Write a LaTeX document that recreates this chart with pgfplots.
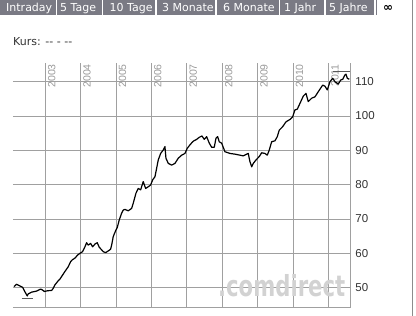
\documentclass[border=0pt]{standalone}
\usepackage{pgfplots}
\pgfplotsset{compat=1.18}
\usepackage{pgfplotstable}
\usepackage{fontspec}
\setmainfont{DejaVu Sans}
\newfontfamily\arialf{Liberation Sans}
\definecolor{tabgray}{HTML}{7A7A84}
\definecolor{gridgray}{HTML}{A0A0A0}
\definecolor{labgray}{HTML}{9A9A9A}
\definecolor{tickdark}{HTML}{333333}
\definecolor{wm}{HTML}{D2D2D2}
\definecolor{borderg}{HTML}{8C8C8C}

\pgfplotstableread{
x y
2002.116 50.3
2002.192 51.0
2002.285 50.5
2002.362 50.1
2002.427 48.8
2002.492 47.6
2002.520 48.2
2002.616 48.7
2002.757 49.0
2002.870 49.6
2002.927 49.3
2002.972 48.9
2003.068 49.1
2003.181 49.2
2003.226 49.8
2003.274 50.8
2003.350 51.8
2003.415 52.5
2003.492 53.7
2003.556 54.7
2003.650 56.1
2003.718 57.6
2003.763 58.1
2003.839 58.6
2003.915 59.5
2003.980 60.0
2004.056 60.5
2004.121 61.9
2004.169 63.1
2004.215 62.4
2004.282 62.9
2004.339 61.9
2004.404 62.7
2004.469 63.1
2004.525 61.8
2004.638 60.5
2004.706 60.2
2004.780 60.7
2004.847 61.2
2004.876 62.4
2004.921 64.9
2004.997 66.8
2005.034 67.5
2005.090 69.7
2005.158 71.7
2005.203 72.6
2005.251 72.8
2005.345 72.4
2005.441 73.1
2005.486 74.6
2005.562 77.5
2005.627 78.9
2005.695 78.5
2005.768 80.9
2005.836 78.9
2005.910 79.4
2005.977 79.9
2006.034 81.4
2006.099 82.3
2006.147 84.8
2006.192 87.2
2006.260 89.1
2006.333 90.1
2006.381 91.1
2006.410 87.7
2006.475 86.2
2006.571 85.7
2006.664 86.2
2006.757 87.7
2006.853 88.6
2006.946 89.1
2007.011 90.6
2007.088 91.6
2007.164 92.5
2007.201 92.8
2007.277 93.2
2007.350 93.8
2007.427 94.2
2007.492 93.2
2007.559 94.0
2007.633 92.1
2007.701 90.9
2007.774 90.9
2007.822 93.5
2007.870 94.0
2007.915 92.5
2007.983 92.1
2008.076 89.6
2008.218 89.1
2008.359 88.9
2008.500 88.6
2008.593 88.4
2008.689 88.9
2008.734 89.1
2008.782 86.7
2008.831 85.2
2008.876 86.2
2008.952 87.2
2009.045 88.2
2009.113 89.3
2009.206 89.1
2009.271 88.6
2009.328 90.1
2009.395 92.5
2009.489 92.8
2009.554 94.0
2009.610 95.9
2009.706 96.9
2009.799 98.3
2009.912 99.0
2009.989 99.8
2010.054 101.8
2010.119 102.0
2010.195 103.7
2010.288 105.8
2010.364 106.6
2010.429 104.2
2010.525 105.2
2010.619 105.6
2010.712 107.1
2010.836 109.0
2010.901 108.7
2010.966 107.6
2011.042 110.0
2011.119 111.0
2011.184 110.0
2011.277 109.3
2011.345 110.5
2011.401 110.7
2011.466 112.0
2011.494 112.2
2011.531 111.0
2011.588 110.7
}\kurs

\begin{document}
\begin{tikzpicture}[x=1pt,y=1pt]
\path[use as bounding box] (0,0) rectangle (416,316);
% tab bar
\fill[tabgray] (0,300.5) rectangle (377,316);
\foreach \xx in {56.7,102.7,156,216,279.3,325,375}
  \draw[white,line width=1.5pt] (\xx,300.5) -- (\xx,316);
\begin{scope}[every node/.style={anchor=base west, inner sep=0pt, text=white, font=\fontsize{11}{13}\selectfont}]
\node at (6,304.5) {Intraday};
\node at (60,304.5) {5 Tage};
\node at (109.5,304.5) {10 Tage};
\node at (162,304.5) {3 Monate};
\node at (223,304.5) {6 Monate};
\node at (284,304.5) {1 Jahr};
\node at (329,304.5) {5 Jahre};
\end{scope}
\node[anchor=center, inner sep=0pt, font=\bfseries\fontsize{12}{13}\selectfont] at (388,308) {∞};
\draw[borderg, line width=1pt] (412,0) -- (412,316);
\node[anchor=base west, inner sep=0pt, text=tickdark, font=\fontsize{11}{13}\selectfont] at (13,270.5) {Kurs: -{}- - -{}-};

\begin{axis}[
  at={(13pt,8pt)}, anchor=south west,
  scale only axis, width=337.3pt, height=245pt,
  xmin=2002.09, xmax=2011.616, ymin=44.08, ymax=115.45,
  axis x line*=bottom, axis y line*=right,
  axis line style={gridgray, line width=1pt, -},
  xtick={2003,2004,...,2011},
  xticklabel=\empty,
  ytick={50,60,...,110},
  major tick length=0pt,
  grid=major, major grid style={gridgray, line width=1pt},
  /pgf/number format/assume math mode=true,
  yticklabel style={anchor=west, inner sep=0pt, xshift=5pt, text=tickdark, font=\arialf\fontsize{11.5}{12}\selectfont},
]
\foreach \yr in {2003,...,2011} {
  \edef\tmp{\noexpand\node[xshift=2.5pt, yshift=-1pt, rotate=90, anchor=north east, inner sep=0pt, text=labgray, font=\noexpand\arialf\noexpand\fontsize{10.5}{11}\noexpand\selectfont] at (axis cs:\yr,115.45) {\yr};}
  \tmp
}
\addplot[black, line width=1.2pt, line join=round] table[x=x,y=y] {\kurs};
\addplot[black!65, line width=0.9pt] coordinates {(2002.333,46.9) (2002.661,46.9)};
\addplot[black!65, line width=0.9pt] coordinates {(2011.127,112.9) (2011.616,112.9)};
\end{axis}
\node[anchor=base west, inner sep=0pt, text=wm, xscale=0.73, font=\bfseries\fontsize{29}{30}\selectfont] at (218,19.3) {.comdirect};
\end{tikzpicture}
\end{document}
